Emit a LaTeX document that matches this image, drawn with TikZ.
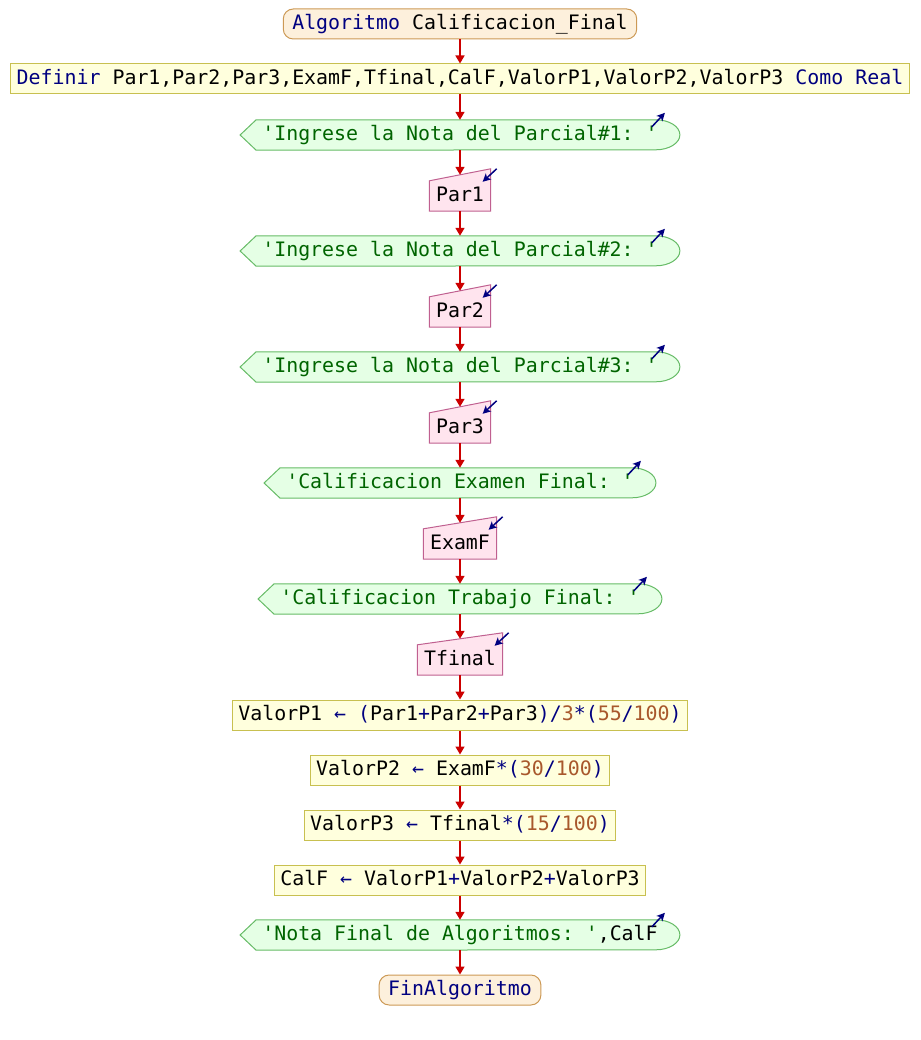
\documentclass[tikz,border=0pt]{standalone}
\usepackage{fontspec}
\setmonofont{DejaVu Sans Mono}
\usepackage{tikz}
\usetikzlibrary{arrows.meta,backgrounds}

\definecolor{kwblue}{HTML}{000080}
\definecolor{strgreen}{HTML}{006400}
\definecolor{numbrown}{HTML}{A8582C}
\definecolor{termfill}{HTML}{FDF0DC}
\definecolor{termline}{HTML}{CC9955}
\definecolor{procfill}{HTML}{FFFFDD}
\definecolor{procline}{HTML}{C8C050}
\definecolor{outfill}{HTML}{E5FFE5}
\definecolor{outline}{HTML}{66BB66}
\definecolor{infill}{HTML}{FFE4EE}
\definecolor{inline}{HTML}{C06090}
\definecolor{flowred}{HTML}{CC0000}

\newcommand{\kwd}[1]{\textcolor{kwblue}{#1}}
\newcommand{\strg}[1]{\textcolor{strgreen}{#1}}
\newcommand{\numb}[1]{\textcolor{numbrown}{#1}}

\begin{document}
\begin{tikzpicture}[
		x=1pt, y=-1pt,
		every node/.style={font=\ttfamily\fontsize{19.9pt}{24pt}\selectfont,
			text height=15pt, text depth=4pt, inner ysep=0pt, minimum height=30pt},
		termbox/.style={draw=termline, fill=termfill, line width=1pt, rounded corners=10pt, inner xsep=9pt},
		procbox/.style={draw=procline, fill=procfill, line width=1pt, inner xsep=6pt},
		outbox/.style={inner xsep=22pt},
		inbox/.style={inner xsep=6.5pt},
		outshape/.style={draw=outline, fill=outfill, line width=1pt},
		inshape/.style={draw=inline, fill=infill, line width=1pt},
		flow/.style={draw=flowred, line width=1.6pt, -{Triangle[width=9pt,length=8pt]}},
		io/.style={draw=kwblue, line width=1.5pt, -{Stealth[length=8pt,width=8pt,inset=2pt]}}
		]
		\useasboundingbox (0,0) rectangle (920,1040);
		% nodes
		\node[termbox] (t1) at (460,24) {\kwd{Algoritmo} Calificacion\_Final};
		\node[procbox] (d) at (460,79) {\kwd{Definir} Par1,Par2,Par3,ExamF,Tfinal,CalF,ValorP1,ValorP2,ValorP3 \kwd{Como Real}};
		\node[outbox] (o1) at (460,135) {\strg{'Ingrese la Nota del Parcial\#1: '}};
		\node[inbox] (p1) at (460,196) {Par1};
		\node[outbox] (o2) at (460,251) {\strg{'Ingrese la Nota del Parcial\#2: '}};
		\node[inbox] (p2) at (460,312) {Par2};
		\node[outbox] (o3) at (460,367) {\strg{'Ingrese la Nota del Parcial\#3: '}};
		\node[inbox] (p3) at (460,428) {Par3};
		\node[outbox] (o4) at (460,483) {\strg{'Calificacion Examen Final: '}};
		\node[inbox] (p4) at (460,544) {ExamF};
		\node[outbox] (o5) at (460,599) {\strg{'Calificacion Trabajo Final: '}};
		\node[inbox] (p5) at (460,660) {Tfinal};
		\node[procbox] (a1) at (460,715) {ValorP1 \kwd{← (}Par1\kwd{+}Par2\kwd{+}Par3\kwd{)/}\numb{3}\kwd{*(}\numb{55}\kwd{/}\numb{100}\kwd{)}};
		\node[procbox] (a2) at (460,770) {ValorP2 \kwd{←} ExamF\kwd{*(}\numb{30}\kwd{/}\numb{100}\kwd{)}};
		\node[procbox] (a3) at (460,825) {ValorP3 \kwd{←} Tfinal\kwd{*(}\numb{15}\kwd{/}\numb{100}\kwd{)}};
		\node[procbox] (a4) at (460,880) {CalF \kwd{←} ValorP1\kwd{+}ValorP2\kwd{+}ValorP3};
		\node[outbox] (o6) at (460,935) {\strg{'Nota Final de Algoritmos: '},CalF};
		\node[termbox] (t2) at (460,990) {\kwd{FinAlgoritmo}};
		% shapes behind the text
		\begin{scope}[on background layer]
			\foreach \n in {o1,o2,o3,o4,o5,o6}
				\draw[outshape] (\n.west) -- ([xshift=16pt]\n.north west) -- ([xshift=-24pt]\n.north east)
					arc[start angle=90, end angle=-90, x radius=24pt, y radius=15pt]
					-- ([xshift=16pt]\n.south west) -- cycle;
			\foreach \n in {p1,p2,p3,p4,p5}
				\draw[inshape] (\n.south west) -- (\n.north west) -- ([yshift=12pt]\n.north east) -- (\n.south east) -- cycle;
		\end{scope}
		% small io marks
		\foreach \n in {o1,o2,o3,o4,o5,o6}
			\draw[io] ([shift={(-28,7)}]\n.north east) -- ([shift={(-15,-7)}]\n.north east);
		\foreach \n in {p1,p2,p3,p4,p5}
			\draw[io] ([shift={(6,-12)}]\n.north east) -- ([shift={(-8,1)}]\n.north east);
		% connectors
		\foreach \a/\b in {t1/d,d/o1,p1/o2,p2/o3,p3/o4,p4/o5,p5/a1,a1/a2,a2/a3,a3/a4,a4/o6,o6/t2}
			\draw[flow] (\a) -- (\b);
		\foreach \a/\b in {o1/p1,o2/p2,o3/p3,o4/p4,o5/p5}
			\draw[flow] (\a) -- ([yshift=6pt]\b.north);
	\end{tikzpicture}
\end{document}
